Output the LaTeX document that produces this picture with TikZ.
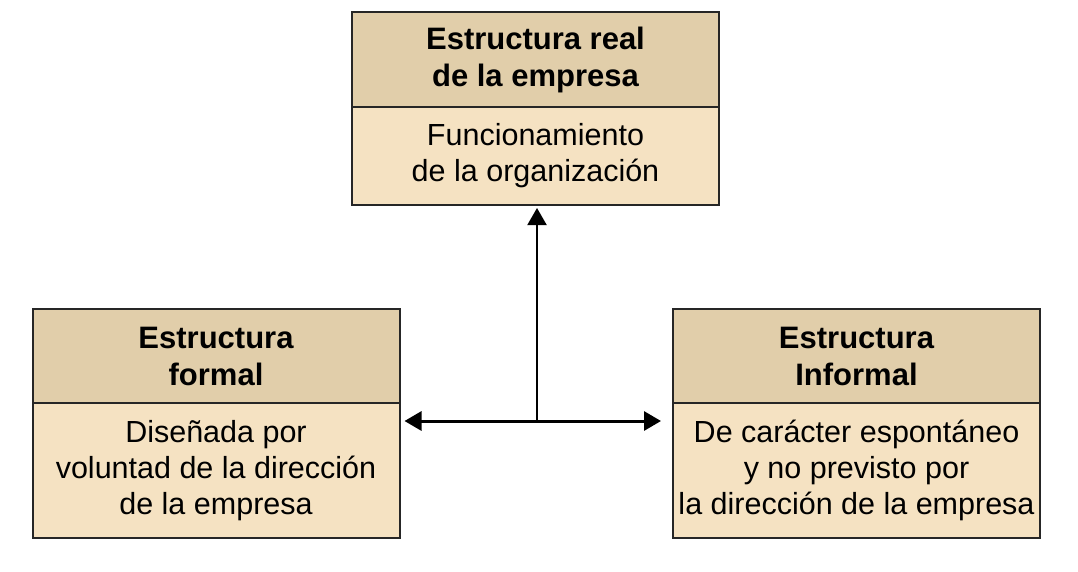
\documentclass[tikz,border=0pt]{standalone}
\usepackage{fontspec}
\setmainfont{Liberation Sans}
\usetikzlibrary{positioning,arrows.meta}

\definecolor{headtan}{HTML}{E1CEAA}
\definecolor{bodytan}{HTML}{F5E2C2}

\tikzset{
  box/.style={draw=black!85, line width=2pt, outer sep=0pt, inner sep=0pt,
    minimum width=367pt, align=center},
  head/.style={box, fill=headtan, minimum height=95pt,
    font=\fontsize{31}{37}\selectfont\bfseries},
  body/.style={box, fill=bodytan, font=\fontsize{30.5}{36}\selectfont},
  link/.style={-{Triangle[length=17pt,width=19pt]}, line width=2pt},
}

\begin{document}
\begin{tikzpicture}[x=1pt,y=-1pt]
        \useasboundingbox (0,0) rectangle (1078,571);

        \node[head] at (535.5,59.5) (realhead) {Estructura real\\de la empresa};
        \node[body, minimum height=98pt, below=0pt of realhead] (realbody) {Funcionamiento\\de la organización};

        \node[head, minimum height=94pt] at (216,356) (formalhead) {Estructura\\formal};
        \node[body, minimum height=135pt, below=0pt of formalhead] (formalbody) {Diseñada por\\voluntad de la dirección\\de la empresa};

        \node[head, minimum height=94pt] at (856.5,356) (informalhead) {Estructura\\Informal};
        \node[body, minimum height=135pt, below=0pt of informalhead] (informalbody) {De carácter espontáneo\\y no previsto por\\la dirección de la empresa};

        \coordinate (hub) at (537,421);

        \path[link]
        (hub) edge [shorten >=3pt] (hub |- realbody.south)
        (hub) edge [line width=3pt, shorten >=5pt] (formalbody.east |- hub)
        (hub) edge [line width=3pt, shorten >=12pt] (informalbody.west |- hub)
        ;
    \end{tikzpicture}
\end{document}
